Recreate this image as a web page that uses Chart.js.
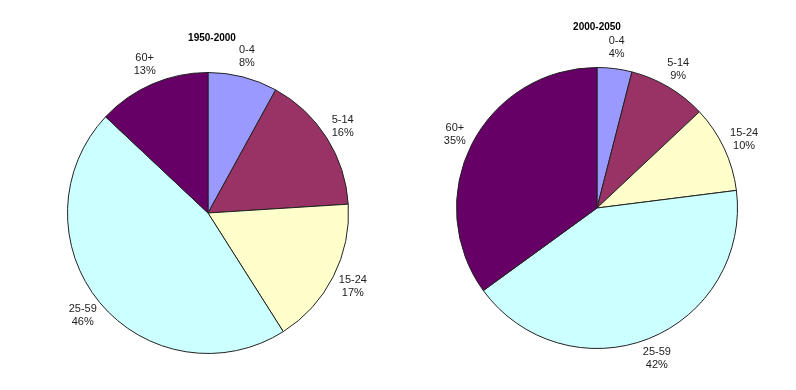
<!DOCTYPE html>
<html>
<head>
<meta charset="utf-8">
<script src="https://cdn.jsdelivr.net/npm/chart.js@4"></script>
<style>
  body { margin: 0; background: #fff; }
  .wrap { position: relative; width: 796px; height: 390px; }
  canvas { position: absolute; top: 0; }
</style>
</head>
<body>
<div class="wrap">
  <canvas id="pieLeft" width="398" height="390" style="left:0"></canvas>
  <canvas id="pieRight" width="398" height="390" style="left:398px"></canvas>
</div>
<script>
// age groups
const ageGroups = ['0-4', '5-14', '15-24', '25-59', '60+'];
const share1950 = [8, 16, 17, 46, 13];
const share2000 = [4, 9, 10, 42, 35];
const sliceColors = ['#9999ff', '#993366', '#ffffcc', '#ccffff', '#660066'];

// draws the two-line labels outside each slice, plus the title
const outsideLabels = {
    id: 'outsideLabels',
    afterDatasetsDraw(chart, args, opts) {
        const ctx = chart.ctx;
        const meta = chart.getDatasetMeta(0);
        const values = chart.data.datasets[0].data;
        ctx.save();
        ctx.fillStyle = '#222';
        ctx.textAlign = 'center';
        ctx.textBaseline = 'middle';
        ctx.font = '11px "Liberation Sans", Arial, sans-serif';
        const lineH = 13;
        meta.data.forEach(function(arc, i) {
            const mid = (arc.startAngle + arc.endAngle) / 2;
            const r = arc.outerRadius + 8;
            const ax = arc.x + Math.cos(mid) * r;
            const ay = arc.y + Math.sin(mid) * r;
            const lines = [chart.data.labels[i], values[i] + '%'];
            const w = Math.max(...lines.map(l => ctx.measureText(l).width));
            const h = lines.length * lineH;
            const cx = ax + Math.cos(mid) * w / 2;
            const cy = ay + Math.sin(mid) * h / 2;
            lines.forEach(function(l, j) {
                ctx.fillText(l, cx, cy - h / 2 + lineH / 2 + j * lineH);
            });
        });
        // title
        ctx.font = 'bold 10px "Liberation Sans", Arial, sans-serif';
        ctx.fillStyle = '#000';
        const first = meta.data[0];
        ctx.fillText(opts.title, first.x + opts.titleDx, opts.titleY);
        ctx.restore();
    }
};

function makePie(id, values, title, padding, titleDx, titleY) {
    const ctx = document.getElementById(id).getContext('2d');
    return new Chart(ctx, {
        type: 'pie',
        data: {
            labels: ageGroups,
            datasets: [{
                data: values,
                backgroundColor: sliceColors,
                borderColor: '#222',
                borderWidth: 1
            }]
        },
        options: {
            responsive: false,
            animation: false,
            layout: { padding: padding },
            plugins: {
                legend: { display: false },
                tooltip: { enabled: false },
                outsideLabels: { title: title, titleDx: titleDx, titleY: titleY }
            }
        },
        plugins: [outsideLabels]
    });
}

makePie('pieLeft', share1950, '1950-2000', { left: 67, right: 49, top: 72, bottom: 36 }, 4, 38);
makePie('pieRight', share2000, '2000-2050', { left: 58, right: 58, top: 67, bottom: 41 }, 0, 27);
</script>
</body>
</html>
